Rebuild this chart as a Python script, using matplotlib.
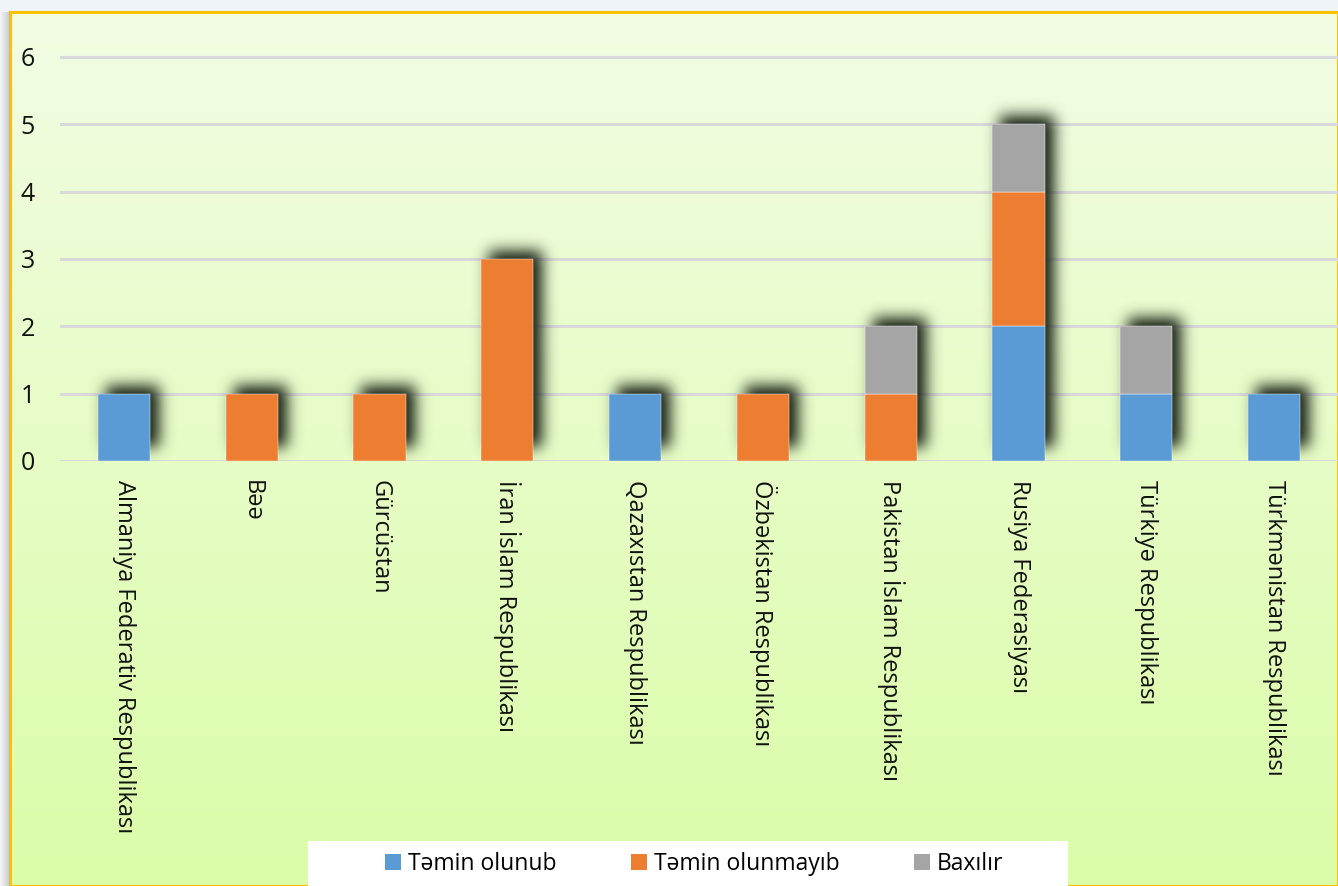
import numpy as np
import matplotlib
matplotlib.use("Agg")
import matplotlib.pyplot as plt
from matplotlib.patches import Rectangle, Patch

# data
countries = ["Almaniya Federativ Respublikası", "Bəə", "Gürcüstan", "İran İslam Respublikası",
             "Qazaxıstan Respublikası", "Özbəkistan Respublikası", "Pakistan İslam Respublikası",
             "Rusiya Federasiyası", "Türkiyə Respublikası", "Türkmənistan Respublikası"]
temin_olunub = [1, 0, 0, 0, 1, 0, 0, 2, 1, 1]
temin_olunmayib = [0, 1, 1, 3, 0, 1, 1, 2, 0, 0]
baxilir = [0, 0, 0, 0, 0, 0, 1, 1, 1, 0]
series_names = ["Təmin olunub", "Təmin olunmayıb", "Baxılır"]
series_colors = ["#5B9BD5", "#ED7D31", "#A5A5A5"]
y_ticks = [0, 1, 2, 3, 4, 5, 6]

plt.rcParams['font.family'] = ['Open Sans', 'DejaVu Sans']

W, H = 1338, 886
fig = plt.figure(figsize=(W / 100, H / 100), dpi=100)
fig.patch.set_facecolor("#eef4f8")

# chart area with green gradient + gold border
bg = fig.add_axes([10 / W, 0, (W - 10) / W, (H - 12) / H])
grad = np.linspace(0, 1, 256)[:, None]
top_c = np.array([242, 253, 228]) / 255
bot_c = np.array([219, 252, 168]) / 255
img = top_c[None, None, :] * (1 - grad[..., None]) + bot_c[None, None, :] * grad[..., None]
img = np.repeat(img, 2, axis=1)
bg.imshow(img, aspect="auto", extent=(0, 1, 0, 1), zorder=0)
bg.set_xlim(0, 1)
bg.set_ylim(0, 1)
bg.set_xticks([])
bg.set_yticks([])
for s in bg.spines.values():
    s.set_color("#FFC000")
    s.set_linewidth(2.2)

# grey drop shadow at left of chart area
sh = fig.add_axes([0, 0, 10 / W, (H - 12) / H])
sh.imshow(np.linspace(0.97, 0.72, 32)[None, :], cmap="gray", vmin=0, vmax=1, aspect="auto", alpha=0.7)
sh.axis("off")

# main axes
ymax = 6.5
px_per_unit = (461 - 57) / 6
ax_h = ymax * px_per_unit
ax = fig.add_axes([60 / W, (H - 461) / H, (W - 60) / W, ax_h / H])
ax.set_facecolor("none")

x = np.arange(len(countries))
bw = 0.41
totals = np.array(temin_olunub) + np.array(temin_olunmayib) + np.array(baxilir)

# blurred shadow behind bars
nx, ny = W - 60, int(round(ax_h))
px_x = nx / len(countries)
xs = -0.5 + (np.arange(nx) + 0.5) / px_x
ys = (np.arange(ny) + 0.5) / px_per_unit
XX, YY = np.meshgrid(xs, ys)
mask = np.zeros((ny, nx))
for i, t in enumerate(totals):
    mask[(XX > i - bw / 2 + 8 / px_x) & (XX < i + bw / 2 + 9 / px_x)
         & (YY > 14 / px_per_unit) & (YY < t + 8 / px_per_unit)] = 1.0

def blur(a, sigma):
    r = int(3 * sigma)
    k = np.exp(-0.5 * (np.arange(-r, r + 1) / sigma) ** 2)
    k /= k.sum()
    a = np.apply_along_axis(lambda m: np.convolve(m, k, mode="same"), 0, a)
    a = np.apply_along_axis(lambda m: np.convolve(m, k, mode="same"), 1, a)
    return a

mask = blur(mask, 7.5)
shadow = np.zeros((ny, nx, 4))
shadow[..., 0] = 0.13
shadow[..., 1] = 0.17
shadow[..., 2] = 0.11
shadow[..., 3] = np.clip(mask * 1.1, 0, 0.9)
ax.imshow(shadow, origin="lower", extent=(-0.5, len(countries) - 0.5, 0, ymax),
          aspect="auto", zorder=1.5, interpolation="bilinear")

bottom = np.zeros(len(countries))
for vals, name, col in zip([temin_olunub, temin_olunmayib, baxilir], series_names, series_colors):
    v = np.array(vals, dtype=float)
    ax.bar(x[v > 0], v[v > 0], bw, bottom=bottom[v > 0], color=col, zorder=3,
           edgecolor="#ffffff", linewidth=0.3)
    bottom += v

ax.set_xlim(-0.5, len(countries) - 0.5)
ax.set_ylim(0, ymax)
ax.set_yticks(y_ticks)
ax.set_yticklabels([str(t) for t in y_ticks])
ax.yaxis.grid(True, color="#d9d9d9", linewidth=2.2, zorder=0.5)
ax.set_axisbelow(True)
ax.set_xticks(x)
ax.set_xticklabels(countries, rotation=270, ha="center", va="top")
ax.tick_params(axis="x", length=0, pad=14, labelsize=17, labelcolor="#111111")
ax.tick_params(axis="y", length=0, pad=18, labelsize=18, labelcolor="#111111")
for s in ax.spines.values():
    s.set_visible(False)

# legend box
fig.patches.append(Rectangle((308 / W, 0), 760 / W, 45 / H, transform=fig.transFigure,
                             facecolor="white", edgecolor="none", zorder=5))
handles = [Patch(facecolor=c, edgecolor="none") for c in series_colors]
leg = fig.legend(handles, series_names, loc="center", bbox_to_anchor=(694 / W, 22 / H),
                 ncol=3, frameon=False, fontsize=16.5, handlelength=0.7, handleheight=0.7,
                 handletextpad=0.3, columnspacing=3.25)
leg.set_zorder(6)

fig.savefig("out.png", dpi=100)
